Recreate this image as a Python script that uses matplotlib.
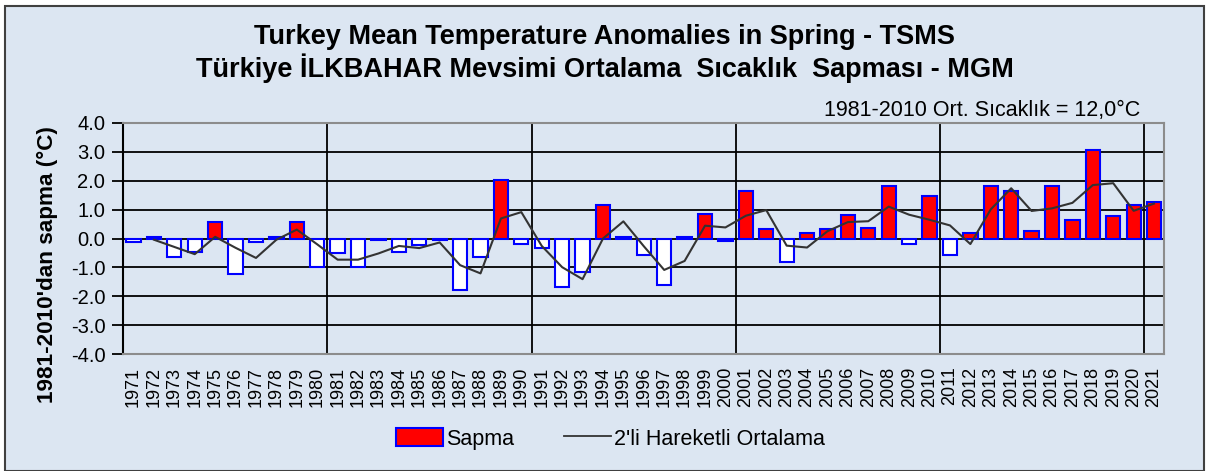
import numpy as np
import pandas as pd
import matplotlib
matplotlib.use("Agg")
import matplotlib.pyplot as plt
from matplotlib.patches import Rectangle, Patch
from matplotlib.lines import Line2D

# spring temperature anomalies (°C) relative to 1981-2010
years = list(range(1971, 2022))
sapma = [-0.13, 0.05, -0.63, -0.45, 0.57, -1.21, -0.13, 0.05, 0.57, -0.97,
         -0.49, -0.97, -0.06, -0.45, -0.21, -0.06, -1.78, -0.63, 2.02, -0.19,
         -0.32, -1.66, -1.15, 1.15, 0.04, -0.57, -1.60, 0.05, 0.84, -0.07,
         1.65, 0.32, -0.81, 0.19, 0.32, 0.82, 0.38, 1.83, -0.18, 1.48,
         -0.57, 0.19, 1.83, 1.65, 0.26, 1.83, 0.64, 3.06, 0.77, 1.15,
         1.27]
yticks = [-4, -3, -2, -1, 0, 1, 2, 3, 4]

bg = "#dce6f2"
plt.rcParams["font.family"] = ["Liberation Sans", "DejaVu Sans"]

df = pd.DataFrame({"year": years, "sapma": sapma})
df["ort"] = df["sapma"].rolling(2).mean()  # 2'li hareketli ortalama

fig = plt.figure(figsize=(12.09, 4.71), dpi=100)
fig.patch.set_facecolor("white")
fig.patches.append(Rectangle((0.004, 0.0), 0.992, 0.987, transform=fig.transFigure,
                             facecolor=bg, edgecolor="#404040", lw=1.5, zorder=-1))

ax = fig.add_axes([0.102, 0.248, 0.861, 0.491])
ax.set_facecolor(bg)

x = np.arange(len(years))
pos = df["sapma"] >= 0
ax.bar(x[pos], df["sapma"][pos], width=0.7, color="red", edgecolor="blue", lw=1.5, zorder=3)
ax.bar(x[~pos], df["sapma"][~pos], width=0.7, color="white", edgecolor="blue", lw=1.5, zorder=3)
ax.plot(x, df["ort"], color="#333333", lw=1.5, zorder=4)

ax.set_xlim(-0.5, len(years) - 0.5)
ax.set_ylim(-4, 4)
ax.set_yticks(yticks)
ax.set_yticklabels([f"{v:.1f}" for v in yticks], fontsize=14.5)
ax.yaxis.grid(True, color="black", lw=1.3)
ax.set_axisbelow(True)
for i, yr in enumerate(years):
    if yr % 10 == 0 and yr > 1971:
        ax.axvline(i + 0.5, color="black", lw=1.3, zorder=2)

ax.set_xticks(x)
ax.set_xticklabels([str(y) for y in years], rotation=90, fontsize=13)
ax.tick_params(axis="x", length=0, pad=9)
ax.tick_params(axis="y", length=8, width=1.3, direction="out", pad=5)
ax.spines["left"].set_color("black")
ax.spines["left"].set_linewidth(1.5)
for s in ["top", "right", "bottom"]:
    ax.spines[s].set_color("#8c8c8c")
    ax.spines[s].set_linewidth(1.5)

fig.text(47 / 1209, 1 - 265 / 471, "1981-2010'dan sapma (°C)", rotation=90,
         ha="center", va="center", fontsize=16.2, fontweight="bold")

fig.text(0.5, 0.921, "Turkey Mean Temperature Anomalies in Spring - TSMS",
         ha="center", va="center", fontsize=19.5, fontweight="bold")
fig.text(0.5, 0.855, "Türkiye İLKBAHAR Mevsimi Ortalama  Sıcaklık  Sapması - MGM",
         ha="center", va="center", fontsize=19.5, fontweight="bold")
fig.text(0.943, 0.766, "1981-2010 Ort. Sıcaklık = 12,0°C", ha="right", va="center",
         fontsize=15.5)

handles = [Patch(facecolor="red", edgecolor="blue", lw=1.5),
           Line2D([0], [0], color="#333333", lw=1.3)]
fig.legend(handles, ["Sapma", "2'li Hareketli Ortalama"], loc="center",
           bbox_to_anchor=(0.505, 0.068), ncol=2, frameon=False,
           prop={"size": 15.5}, handlelength=2.2, handleheight=0.9,
           handletextpad=0.15, columnspacing=2.3)

fig.savefig("out.png", dpi=100, facecolor=fig.get_facecolor())
